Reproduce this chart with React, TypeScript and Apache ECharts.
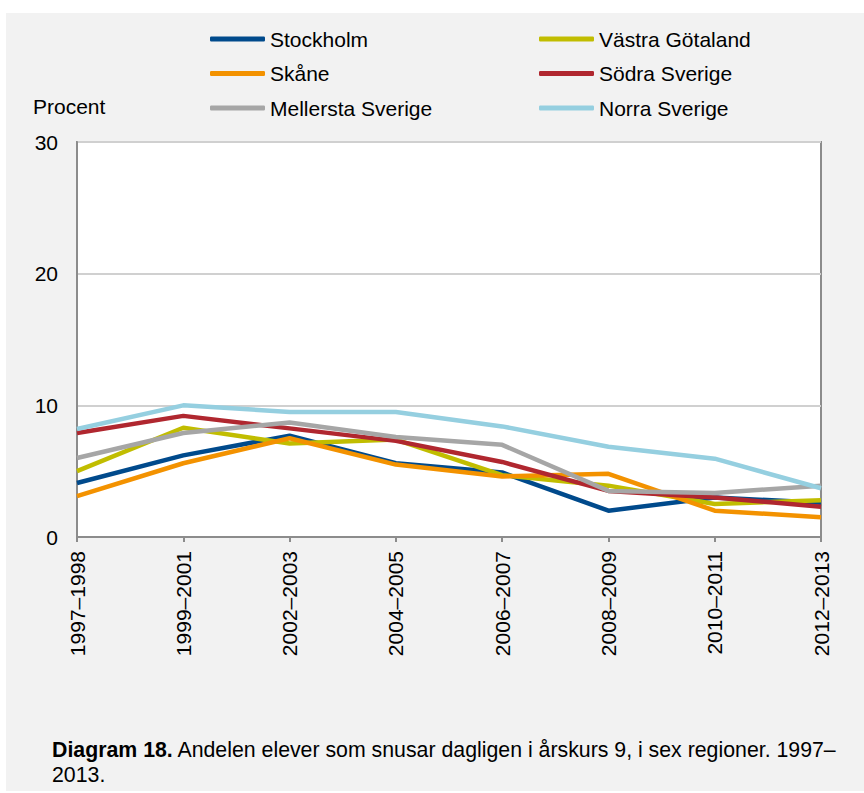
import React, { useEffect, useRef } from "react";
import * as echarts from "echarts";

const categories = ["1997–1998", "1999–2001", "2002–2003", "2004–2005", "2006–2007", "2008–2009", "2010–2011", "2012–2013"];
const stockholm = [4.1, 6.2, 7.7, 5.6, 4.9, 2.0, 3.0, 2.6];
const vastraGotaland = [5.0, 8.3, 7.1, 7.4, 4.7, 3.9, 2.5, 2.8];
const skane = [3.1, 5.6, 7.5, 5.5, 4.6, 4.8, 2.0, 1.5];
const sodraSverige = [7.9, 9.2, 8.25, 7.3, 5.7, 3.5, 3.0, 2.3];
const mellerstaSverige = [6.0, 7.9, 8.7, 7.6, 7.0, 3.5, 3.35, 3.9];
const norraSverige = [8.2, 10.0, 9.5, 9.5, 8.4, 6.85, 5.95, 3.7];
const yTicks = [0, 10, 20, 30];

const seriesDefs = [
  { name: "Stockholm", data: stockholm, color: "#004a8c" },
  { name: "Västra Götaland", data: vastraGotaland, color: "#c1bd00" },
  { name: "Skåne", data: skane, color: "#f39200" },
  { name: "Södra Sverige", data: sodraSverige, color: "#b0272f" },
  { name: "Mellersta Sverige", data: mellerstaSverige, color: "#a6a6a6" },
  { name: "Norra Sverige", data: norraSverige, color: "#95cfe0" },
];

const FONT = "'Liberation Sans', Arial, sans-serif";

export default function App() {
  const ref = useRef<HTMLDivElement>(null);
  useEffect(() => {
    if (!ref.current) return;
    const chart = echarts.init(ref.current, undefined, { renderer: "svg" });
    const legendCommon = {
      orient: "vertical" as const,
      top: 22,
      itemWidth: 55,
      itemHeight: 5,
      itemGap: 10.5,
      icon: "roundRect",
      textStyle: { fontFamily: FONT, fontSize: 21, color: "#000", lineHeight: 24 },
      selectedMode: false,
    };
    chart.setOption({
      animation: false,
      textStyle: { fontFamily: FONT },
      grid: {
        left: 77,
        right: 43,
        top: 142,
        bottom: 256,
        show: true,
        backgroundColor: "#ffffff",
        borderColor: "#8c8c8c",
        borderWidth: 2,
      },
      legend: [
        { ...legendCommon, left: 205, data: ["Stockholm", "Skåne", "Mellersta Sverige"] },
        { ...legendCommon, left: 534, data: ["Västra Götaland", "Södra Sverige", "Norra Sverige"] },
      ],
      xAxis: {
        type: "category",
        data: categories,
        boundaryGap: false,
        axisLine: { lineStyle: { color: "#8c8c8c", width: 2 } },
        axisTick: { show: true, length: 5, lineStyle: { color: "#8c8c8c", width: 2 } },
        axisLabel: { rotate: 90, margin: 14, color: "#000", fontSize: 21, fontFamily: FONT },
      },
      yAxis: {
        type: "value",
        min: yTicks[0],
        max: yTicks[yTicks.length - 1],
        interval: 10,
        axisLine: { show: true, lineStyle: { color: "#8c8c8c", width: 2 } },
        axisTick: { show: false },
        splitLine: { lineStyle: { color: "#d0d0d0", width: 2 } },
        axisLabel: { margin: 19, color: "#000", fontSize: 21, fontFamily: FONT },
      },
      series: seriesDefs.map((s) => ({
        name: s.name,
        type: "line",
        data: s.data,
        symbol: "none",
        color: s.color,
        lineStyle: { width: 4.5, color: s.color },
      })),
      graphic: [
        {
          type: "text",
          left: 33,
          top: 96,
          style: { text: "Procent", fontFamily: FONT, fontSize: 21, fill: "#000" },
        },
        {
          type: "text",
          left: 52,
          top: 737,
          style: {
            text: "{b|Diagram 18.} Andelen elever som snusar dagligen i årskurs 9, i sex regioner. 1997–\n2013.",
            fontFamily: FONT,
            fontSize: 21.3,
            lineHeight: 25,
            fill: "#000",
            rich: { b: { fontWeight: "bold", fontFamily: FONT, fontSize: 21.3, lineHeight: 25, fill: "#000" } },
          },
        },
      ],
    });
    return () => chart.dispose();
  }, []);
  return (
    <div style={{ position: "absolute", left: 0, top: 0, width: 864, height: 793, background: "#fff" }}>
      <div style={{ position: "absolute", left: 6, top: 13, width: 858, height: 778, background: "#f2f2f2" }} />
      <div ref={ref} style={{ position: "absolute", left: 0, top: 0, width: 864, height: 793 }} />
    </div>
  );
}
